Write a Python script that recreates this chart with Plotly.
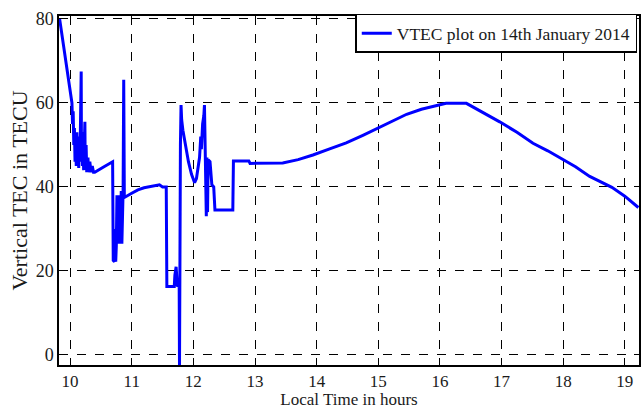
import plotly.graph_objects as go

# Local time (hours) and VTEC (TECU)
time_h = [
    9.83, 9.90, 9.97, 10.00, 10.03, 10.04, 10.05, 10.06, 10.07, 10.08, 10.09, 10.10,
    10.11, 10.12, 10.13, 10.14, 10.15, 10.16, 10.17, 10.18, 10.185, 10.19, 10.20,
    10.21, 10.22, 10.24, 10.245, 10.26, 10.27, 10.29, 10.30, 10.32, 10.34, 10.36,
    10.38, 10.40, 10.55, 10.69, 10.70, 10.72, 10.73, 10.74, 10.75, 10.76, 10.77,
    10.78, 10.79, 10.80, 10.81, 10.83, 10.84, 10.86, 10.87, 10.88, 11.00, 11.10,
    11.20, 11.35, 11.45, 11.50, 11.56, 11.57, 11.69, 11.70, 11.72, 11.74, 11.77,
    11.775, 11.78, 11.785, 11.79, 11.80, 11.81, 11.83, 11.87, 11.92, 11.97, 12.02,
    12.05, 12.08, 12.10, 12.12, 12.13, 12.15, 12.17, 12.18, 12.19, 12.20, 12.21,
    12.22, 12.23, 12.24, 12.27, 12.30, 12.33, 12.35, 12.64, 12.65, 12.90, 12.92,
    13.20, 13.45, 13.70, 13.94, 14.20, 14.48, 14.75, 15.00, 15.25, 15.46, 15.70,
    15.97, 16.10, 16.43, 16.70, 16.97, 17.25, 17.51, 17.75, 17.97, 18.20, 18.43,
    18.60, 18.79, 19.00, 19.22,
]
vtec = [
    80.0, 73.0, 65.0, 62.5, 60.0, 55.0, 58.0, 50.0, 54.0, 46.0, 52.0, 45.0,
    53.0, 45.0, 50.0, 44.5, 52.0, 46.0, 54.0, 67.5, 46.0, 53.0, 45.0,
    50.0, 44.0, 55.5, 45.0, 50.0, 43.5, 47.0, 43.5, 46.0, 43.5, 45.0,
    43.5, 43.5, 44.8, 46.0, 22.5, 22.2, 30.0, 22.2, 26.0, 38.0, 26.5,
    36.5, 27.0, 38.0, 26.5, 39.0, 26.5, 39.0, 65.5, 37.5, 38.5, 39.3,
    39.8, 40.2, 40.5, 40.0, 40.0, 16.3, 16.3, 19.0, 21.0, 16.5, 16.3,
    -3.0, 35.0, 30.0, 50.0, 59.5, 56.0, 53.5, 50.0, 46.0, 43.0, 41.0,
    42.0, 45.0, 47.0, 52.0, 49.0, 55.0, 57.0, 59.5, 50.0, 48.5, 33.0,
    47.0, 34.0, 46.5, 46.0, 40.5, 40.0, 34.5, 34.5, 46.2, 46.2, 45.6,
    45.6, 45.7, 46.5, 47.6, 49.0, 50.5, 52.3, 54.0, 55.8, 57.3, 58.5,
    59.5, 59.9, 59.9, 57.8, 55.5, 53.0, 50.4, 48.6, 46.8, 44.8, 42.5,
    41.3, 39.9, 37.8, 35.1,
]
x_ticks = [10, 11, 12, 13, 14, 15, 16, 17, 18, 19]
y_ticks = [0, 20, 40, 60, 80]

font_family = "Liberation Serif, Times New Roman, serif"
text_color = "#1a1a1a"

fig = go.Figure()
fig.add_trace(go.Scatter(
    x=time_h, y=vtec, mode="lines",
    line=dict(color="#0000FF", width=3),
    name="VTEC plot on 14th January 2014",
))

axis_common = dict(
    showline=True, linecolor="black", linewidth=1.5, mirror="ticks",
    ticks="inside", ticklen=5, tickcolor="black", tickwidth=1,
    showgrid=True, gridcolor="black", griddash="dash", gridwidth=1,
    zeroline=False, automargin=False,
)

fig.update_layout(
    width=642, height=409,
    margin=dict(l=59, r=3, t=16, b=44),
    paper_bgcolor="white", plot_bgcolor="white",
    font=dict(family=font_family, color=text_color),
    showlegend=True,
    legend=dict(
        x=0.997, y=1.006, xanchor="right", yanchor="top",
        bgcolor="white", bordercolor="black", borderwidth=1.5,
        font=dict(family=font_family, size=17.5, color=text_color),
        itemwidth=30, tracegroupgap=0,
    ),
    xaxis=dict(
        range=[9.82, 19.23], tickvals=x_ticks,
        ticklabelstandoff=0,
        tickfont=dict(family=font_family, size=17, color=text_color),
        title=dict(text="Local Time in hours", standoff=0,
                   font=dict(family=font_family, size=17, color=text_color)),
        **axis_common,
    ),
    yaxis=dict(
        range=[-2.4, 80.7], tickvals=y_ticks,
        tickfont=dict(family=font_family, size=18, color=text_color),
        title=dict(text="Vertical TEC in TECU", standoff=2,
                   font=dict(family=font_family, size=22, color=text_color)),
        **axis_common,
    ),
)

fig.write_html("out.html")
